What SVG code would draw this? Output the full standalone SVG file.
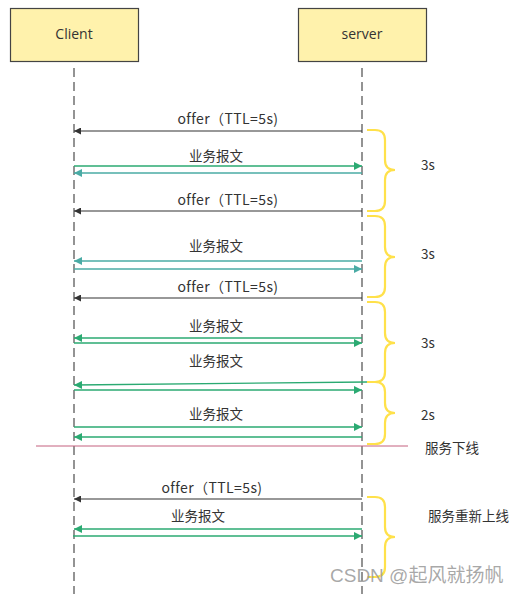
<svg xmlns="http://www.w3.org/2000/svg" width="517" height="594" viewBox="0 0 517 594">
<style>
.box{fill:#FFF2AC;stroke:#444;stroke-width:1.2}
.life{stroke:#666;stroke-width:1.4;stroke-dasharray:9,5;fill:none}
.t{font-family:"Open Sans","Noto Sans CJK SC",sans-serif;font-size:14px;fill:#333;text-anchor:middle}
.c{font-family:"Noto Sans CJK SC",sans-serif;font-size:13.5px;fill:#333;text-anchor:middle}
.o{font-family:"Noto Sans CJK SC",sans-serif;font-size:14px;letter-spacing:0.4px;fill:#333;text-anchor:middle}
.l{font-family:"Noto Sans CJK SC",sans-serif;font-size:13.5px;fill:#333}
.blk{stroke:#333;stroke-width:1.2;fill:none;marker-end:url(#ab)}
.grn{stroke:#2BAA72;stroke-width:1.3;fill:none;marker-end:url(#ag)}
.tea{stroke:#4AABA5;stroke-width:1.3;fill:none;marker-end:url(#at)}
.br{stroke:#FFE14A;stroke-width:2.2;fill:none}
</style>
<defs>
<marker id="ab" viewBox="0 0 10 10" refX="10" refY="5" markerWidth="8" markerHeight="7" markerUnits="userSpaceOnUse" orient="auto"><path d="M0,0 L10,5 L0,10 z" fill="#333"/></marker>
<marker id="ag" viewBox="0 0 10 10" refX="10" refY="5" markerWidth="9" markerHeight="8" markerUnits="userSpaceOnUse" orient="auto"><path d="M0,0 L10,5 L0,10 z" fill="#2BAA72"/></marker>
<marker id="at" viewBox="0 0 10 10" refX="10" refY="5" markerWidth="9" markerHeight="8" markerUnits="userSpaceOnUse" orient="auto"><path d="M0,0 L10,5 L0,10 z" fill="#4AABA5"/></marker>
</defs>
<g id="client">
<rect class="box" x="10.5" y="8.5" width="128" height="53"/>
<text class="t" x="74" y="39">Client</text>
<line class="life" x1="74" y1="68" x2="74" y2="594"/>
</g>
<g id="server">
<rect class="box" x="298.5" y="8.5" width="128" height="53"/>
<text class="t" x="362" y="39">server</text>
<line class="life" x1="362" y1="68" x2="362" y2="594"/>
</g>
<g id="connectors">
<line class="blk" x1="362" y1="131" x2="74" y2="131"/>
<line class="grn" x1="74" y1="166" x2="362" y2="166"/>
<line class="tea" x1="362" y1="173" x2="74" y2="173"/>
<line class="blk" x1="362" y1="211" x2="74" y2="211"/>
<line class="tea" x1="362" y1="261" x2="74" y2="261"/>
<line class="tea" x1="74" y1="269" x2="362" y2="269"/>
<line class="blk" x1="362" y1="298" x2="74" y2="298"/>
<line class="grn" x1="362" y1="338" x2="74" y2="338"/>
<line class="grn" x1="74" y1="343" x2="362" y2="343"/>
<line class="grn" x1="367" y1="382" x2="74" y2="385"/>
<line class="grn" x1="74" y1="390" x2="362" y2="390"/>
<line class="grn" x1="74" y1="427" x2="362" y2="427"/>
<line class="grn" x1="362" y1="437" x2="74" y2="437"/>
<line x1="36" y1="446" x2="408" y2="446" stroke="#C4607E" stroke-width="1"/>
<line class="blk" x1="362" y1="499" x2="74" y2="499"/>
<line class="grn" x1="362" y1="529" x2="74" y2="529"/>
<line class="grn" x1="73" y1="536" x2="362" y2="536"/>
</g>
<g id="labels">
<text class="o" x="228" y="124">offer（TTL=5s)</text>
<text class="c" x="216" y="161">业务报文</text>
<text class="o" x="228" y="205">offer（TTL=5s)</text>
<text class="c" x="216" y="251">业务报文</text>
<text class="o" x="228" y="292">offer（TTL=5s)</text>
<text class="c" x="216" y="331">业务报文</text>
<text class="c" x="216" y="366">业务报文</text>
<text class="c" x="216" y="419">业务报文</text>
<text class="o" x="212" y="493">offer（TTL=5s)</text>
<text class="c" x="198" y="521">业务报文</text>
</g>
<g id="braces">
<path class="br" d="M367,130 H375 Q385,130 385,140 V160 Q385,170 395,170 Q385,170 385,180 V201 Q385,211 375,211 H367"/>
<path class="br" d="M367,216 H375 Q385,216 385,226 V247 Q385,257 395,257 Q385,257 385,267 V287 Q385,297 375,297 H367"/>
<path class="br" d="M367,302 H375 Q385,302 385,312 V333 Q385,343 395,343 Q385,343 385,353 V372 Q385,382 375,382 H367"/>
<path class="br" d="M375,382 Q385,382 385,392 V403 Q385,413 395,413 Q385,413 385,423 V434 Q385,444 375,444 H367"/>
<path class="br" d="M367,497 H375 Q385,497 385,507 V527 Q385,537 395,537 Q385,537 385,547 V567 Q385,577 375,577 H367"/>
</g>
<g id="notes">
<text class="l" x="421" y="170">3s</text>
<text class="l" x="421" y="259">3s</text>
<text class="l" x="421" y="348">3s</text>
<text class="l" x="421" y="420">2s</text>
<text class="l" x="425" y="453">服务下线</text>
<text class="l" x="428" y="521">服务重新上线</text>
<text x="330" y="582" font-family="'Liberation Sans','Noto Sans CJK SC',sans-serif" font-size="19" fill="#999" fill-opacity="0.85">CSDN @起风就扬帆</text>
</g>
</svg>
